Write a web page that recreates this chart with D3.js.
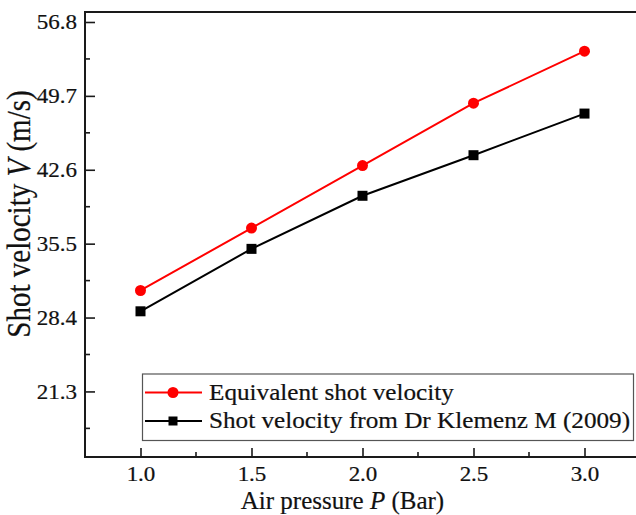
<!DOCTYPE html>
<html>
<head>
<meta charset="utf-8">
<script src="https://cdn.jsdelivr.net/npm/d3@7"></script>
<style>
  html, body { margin: 0; padding: 0; background: #fff; }
  svg { display: block; font-family: "Liberation Serif", "Times New Roman", serif; }
  svg text { stroke: #111; stroke-width: 0.2px; }
</style>
</head>
<body>
<svg id="chart" width="636" height="515"></svg>
<script>
// Air pressure (Bar)
const pressure = [1.0, 1.5, 2.0, 2.5, 3.0];
// Equivalent shot velocity (m/s)
const equivalentVelocity = [31.0, 37.0, 43.0, 49.0, 54.0];
// Shot velocity reported by Dr Klemenz M (2009), m/s
const klemenzVelocity = [29.0, 35.0, 40.1, 44.0, 48.0];
// Axis tick labels
const xTicks = [1.0, 1.5, 2.0, 2.5, 3.0];
const yTicks = [21.3, 28.4, 35.5, 42.6, 49.7, 56.8];
const seriesNames = ["Equivalent shot velocity", "Shot velocity from Dr Klemenz M (2009)"];

const svg = d3.select("#chart");
const plotLeft = 85, plotRight = 640, plotTop = 12, plotBottom = 457;
// glyphs are drawn slightly wide
const stretch = 1.15;

const x = d3.scaleLinear().domain([0.75, 3.25]).range([plotLeft, plotRight]);
const y = d3.scaleLinear().domain([15.0, 57.76]).range([plotBottom, plotTop]);

// minor ticks halfway between majors
const xMinor = d3.range(0.75, 3.26, 0.25).filter(v => !xTicks.some(t => Math.abs(t - v) < 1e-6));
const yMinor = [17.75, 24.85, 31.95, 39.05, 46.15, 53.25];

const axisColor = "#1a1a1a";
const textColor = "#111";

// Frame
svg.append("rect")
  .attr("x", plotLeft).attr("y", plotTop)
  .attr("width", plotRight - plotLeft).attr("height", plotBottom - plotTop)
  .attr("fill", "none").attr("stroke", axisColor).attr("stroke-width", 2);

// Bottom axis: ticks point inward
const xAxis = svg.append("g").attr("transform", `translate(0,${plotBottom})`)
  .call(d3.axisBottom(x).tickValues(xTicks).tickSize(-9).tickFormat(d3.format(".1f")));
xAxis.select(".domain").remove();
xAxis.selectAll(".tick line").attr("stroke", axisColor).attr("stroke-width", 1.6);
xAxis.selectAll(".tick text")
  .attr("font-size", 20).attr("fill", textColor).attr("font-family", "Liberation Serif")
  .attr("x", 0).attr("y", 24.5).attr("dy", null)
  .attr("transform", `scale(${stretch},1)`);
svg.append("g").selectAll("line").data(xMinor).join("line")
  .attr("x1", d => x(d)).attr("x2", d => x(d))
  .attr("y1", plotBottom).attr("y2", plotBottom - 5)
  .attr("stroke", axisColor).attr("stroke-width", 1.6);

// Left axis
const yAxis = svg.append("g").attr("transform", `translate(${plotLeft},0)`)
  .call(d3.axisLeft(y).tickValues(yTicks).tickSize(-10).tickFormat(d3.format(".1f")));
yAxis.select(".domain").remove();
yAxis.selectAll(".tick line").attr("stroke", axisColor).attr("stroke-width", 1.6);
yAxis.selectAll(".tick text")
  .attr("font-size", 20).attr("fill", textColor).attr("font-family", "Liberation Serif")
  .attr("x", 0).attr("dy", "0.34em")
  .attr("transform", `translate(-8,0) scale(${stretch},1)`);
svg.append("g").selectAll("line").data(yMinor).join("line")
  .attr("x1", plotLeft).attr("x2", plotLeft + 5)
  .attr("y1", d => y(d)).attr("y2", d => y(d))
  .attr("stroke", axisColor).attr("stroke-width", 1.6);

// Axis titles
const xt = svg.append("text")
  .attr("x", 342.5).attr("y", 509)
  .attr("text-anchor", "middle").attr("font-size", 25).attr("fill", textColor);
xt.append("tspan").text("Air pressure ");
xt.append("tspan").attr("font-style", "italic").text("P");
xt.append("tspan").text(" (Bar)");

const yt = svg.append("text")
  .attr("transform", `translate(30,214) scale(1.15,1) rotate(-90)`)
  .attr("text-anchor", "middle").attr("font-size", 29).attr("fill", textColor);
yt.append("tspan").text("Shot velocity ");
yt.append("tspan").attr("font-style", "italic").text("V");
yt.append("tspan").text(" (m/s)");

// Series
const line = d3.line().x(d => x(d[0])).y(d => y(d[1]));
const redData = pressure.map((p, i) => [p, equivalentVelocity[i]]);
const blackData = pressure.map((p, i) => [p, klemenzVelocity[i]]);

svg.append("path").datum(blackData).attr("d", line)
  .attr("fill", "none").attr("stroke", "#000").attr("stroke-width", 2);
svg.append("path").datum(redData).attr("d", line)
  .attr("fill", "none").attr("stroke", "#ff0000").attr("stroke-width", 2);

const sq = 10;
svg.append("g").selectAll("rect").data(blackData).join("rect")
  .attr("x", d => x(d[0]) - sq / 2).attr("y", d => y(d[1]) - sq / 2)
  .attr("width", sq).attr("height", sq).attr("fill", "#000");
svg.append("g").selectAll("circle").data(redData).join("circle")
  .attr("cx", d => x(d[0])).attr("cy", d => y(d[1])).attr("r", 5.5).attr("fill", "#ff0000");

// Legend
const lg = svg.append("g");
lg.append("rect").attr("x", 142.5).attr("y", 374).attr("width", 491).attr("height", 66.5)
  .attr("fill", "#fff").attr("stroke", "#555").attr("stroke-width", 1.2);
const rows = [
  { name: seriesNames[0], color: "#ff0000", shape: "circle", cy: 392.5 },
  { name: seriesNames[1], color: "#000", shape: "square", cy: 421 }
];
rows.forEach(r => {
  lg.append("line").attr("x1", 145).attr("x2", 202).attr("y1", r.cy).attr("y2", r.cy)
    .attr("stroke", r.color).attr("stroke-width", 2);
  if (r.shape === "circle") {
    lg.append("circle").attr("cx", 173).attr("cy", r.cy).attr("r", 5.5).attr("fill", r.color);
  } else {
    lg.append("rect").attr("x", 173 - 4.5).attr("y", r.cy - 4.5).attr("width", 9).attr("height", 9).attr("fill", r.color);
  }
  lg.append("text").attr("transform", `translate(209,${r.cy + 7}) scale(1.12,1)`)
    .attr("font-size", 22.5).attr("fill", textColor).text(r.name);
});
</script>
</body>
</html>
